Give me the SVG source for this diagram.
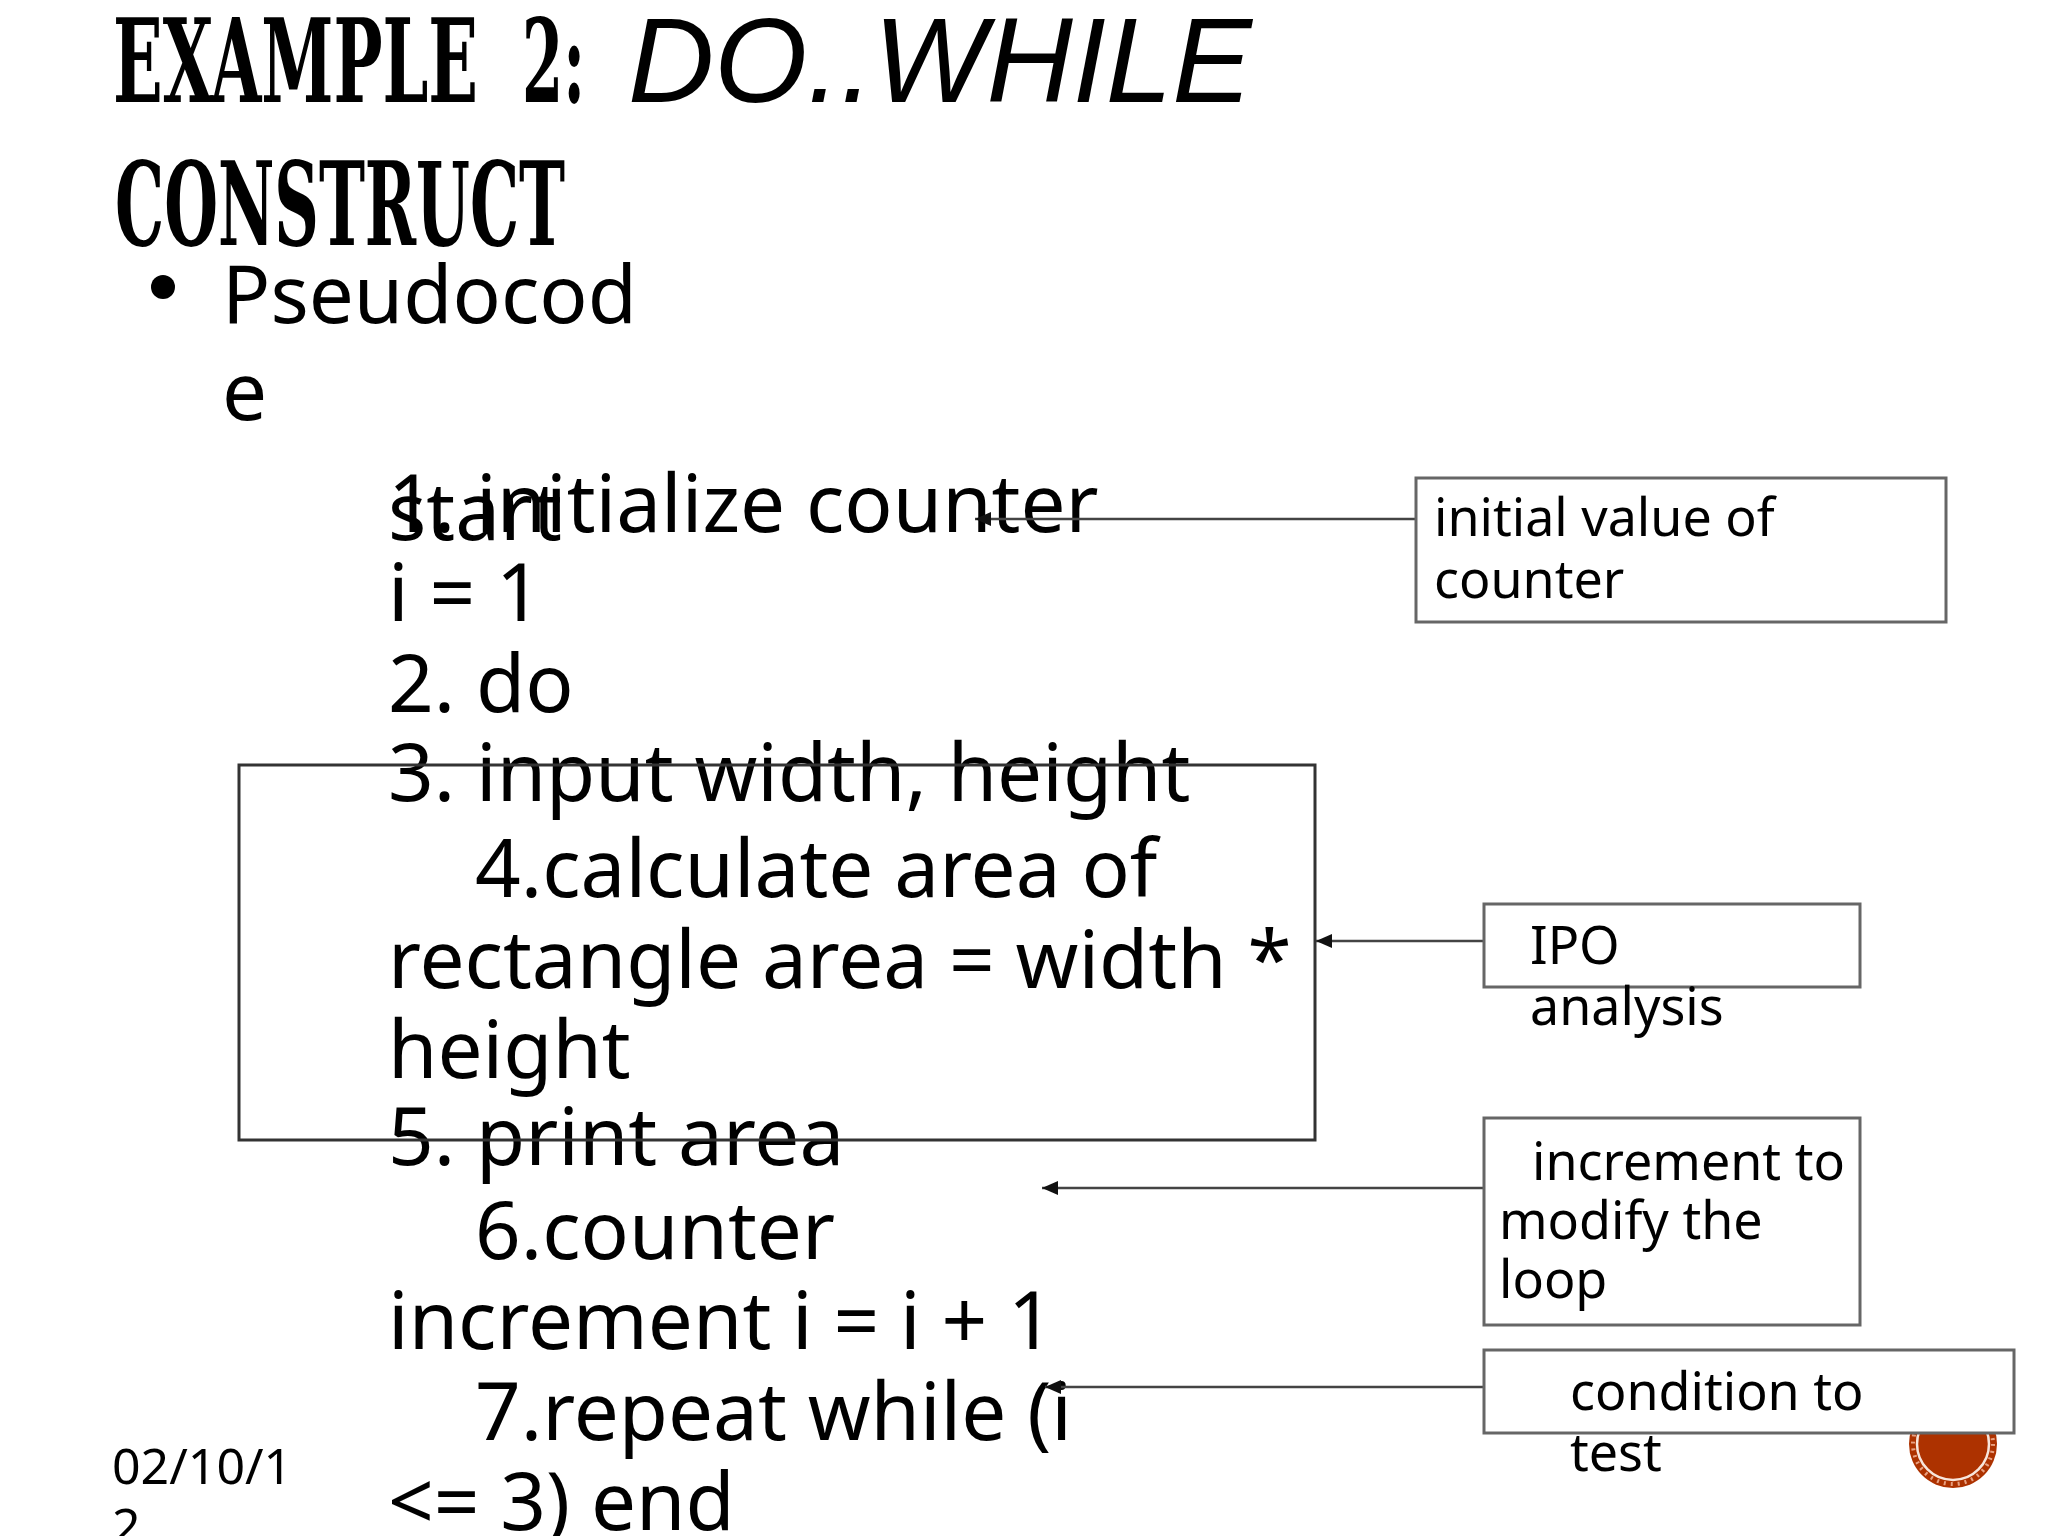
<svg xmlns="http://www.w3.org/2000/svg" width="2048" height="1536" viewBox="0 0 2048 1536">
<style>
.slab{font-family:"DejaVu Serif Condensed","DejaVu Serif",serif;font-weight:bold;font-size:116px;fill:#000}
.ital{font-family:"Liberation Sans",Arial,sans-serif;font-style:italic;font-size:120px;fill:#000}
.b{font-family:"Noto Sans","Open Sans",sans-serif;fill:#000}
.code{font-size:80px}
.note{font-size:52px}
.box{fill:#fff;stroke:#666;stroke-width:3}
.line{fill:none;stroke:#444;stroke-width:2.5}
</style>
<defs><marker id="arrow" markerUnits="userSpaceOnUse" markerWidth="18" markerHeight="16" refX="17" refY="8" orient="auto"><path d="M1 1V15L17 8Z" fill="#111"/></marker></defs>
<rect width="2048" height="1536" fill="#fff"/>
<g id="title">
<text class="slab" x="113" y="102" textLength="365" lengthAdjust="spacingAndGlyphs">EXAMPLE</text>
<text class="slab" x="522" y="102" textLength="63" lengthAdjust="spacingAndGlyphs">2:</text>
<text class="ital" x="628" y="102" textLength="624" lengthAdjust="spacingAndGlyphs">DO..WHILE</text>
<text class="slab" x="115" y="245" textLength="450" lengthAdjust="spacingAndGlyphs">CONSTRUCT</text>
</g>
<g id="bullet">
<circle cx="163" cy="287" r="12" fill="#000"/>
<text class="b" x="222" y="323" font-size="80">Pseudocod</text>
<text class="b" x="222" y="420" font-size="80">e</text>
</g>
<g id="badge">
<circle cx="1953" cy="1444" r="44" fill="#ad3200"/>
<circle cx="1953" cy="1444" r="40" fill="none" stroke="#e8a080" stroke-width="4" stroke-dasharray="2 5"/>
<circle cx="1953" cy="1444" r="36" fill="none" stroke="#f7e6dc" stroke-width="2.5"/>
</g>
<text id="date" class="b" x="112" y="1484" font-size="50">02/10/1</text>
<text id="date2" class="b" x="112" y="1544" font-size="50">2</text>
<g id="code" class="b code">
<text x="388" y="532">1. initialize counter</text>
<text x="388" y="540">start</text>
<text x="388" y="621">i = 1</text>
<text x="388" y="712">2. do</text>
<text x="388" y="801">3. input width, height</text>
<text x="475" y="897">4.calculate area of</text>
<text x="388" y="988">rectangle area = width *</text>
<text x="388" y="1078">height</text>
<text x="388" y="1165">5. print area</text>
<text x="475" y="1259">6.counter</text>
<text x="388" y="1349">increment i = i + 1</text>
<text x="475" y="1440">7.repeat while (i</text>
<text x="388" y="1530">&lt;= 3) end</text>
</g>
<g id="loop-box"><rect x="239" y="765" width="1076" height="375" fill="none" stroke="#333" stroke-width="3"/></g>
<g id="connectors">
<line class="line" x1="1416" y1="519" x2="975" y2="519" marker-end="url(#arrow)"/>
<line class="line" x1="1484" y1="941" x2="1316" y2="941" marker-end="url(#arrow)"/>
<line class="line" x1="1484" y1="1188" x2="1042" y2="1188" marker-end="url(#arrow)"/>
<line class="line" x1="1484" y1="1387" x2="1045" y2="1387" marker-end="url(#arrow)"/>
</g>
<g id="note-initial"><rect class="box" x="1416" y="478" width="530" height="144"/>
<text class="b note" x="1434" y="536">initial value of</text><text class="b note" x="1434" y="598">counter</text></g>
<g id="note-ipo"><rect class="box" x="1484" y="904" width="376" height="83"/>
<text class="b note" x="1530" y="964">IPO</text><text class="b note" x="1530" y="1025">analysis</text></g>
<g id="note-increment"><rect class="box" x="1484" y="1118" width="376" height="207"/>
<text class="b note" x="1532" y="1180">increment to</text><text class="b note" x="1499" y="1239">modify the</text><text class="b note" x="1499" y="1298">loop</text></g>
<g id="note-condition"><rect class="box" x="1484" y="1350" width="530" height="83"/>
<text class="b note" x="1570" y="1410">condition to</text><text class="b note" x="1570" y="1471">test</text></g>
</svg>
